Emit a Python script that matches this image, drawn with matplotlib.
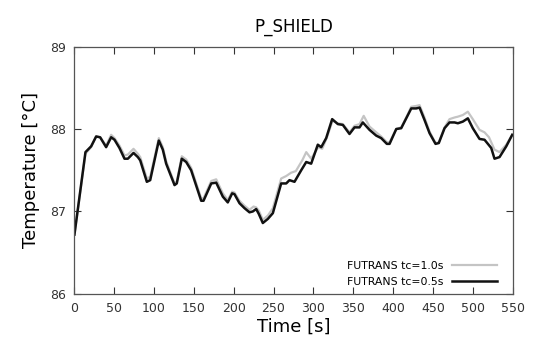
import numpy as np
import matplotlib
matplotlib.use("Agg")
import matplotlib.pyplot as plt

# black curve: FUTRANS tc=0.5s
t_05 = [0.6, 14.4, 21.5, 27.8, 32.8, 40.3, 46.6, 50.8, 57, 63.3, 67.5, 74.6, 80, 83,
        91.3, 95.5, 106.3, 111.3, 115.5, 126, 128.8, 135.1, 140.6, 146.8, 159.4, 162.3,
        172, 178.2, 186.5, 192.7, 198.2, 201.1, 207.4, 213.7, 219.9, 224, 228.3, 231.6,
        236.6, 242.9, 249.2, 259.6, 265.9, 270, 276.3, 284.7, 291, 297.2, 305.5, 309.8,
        316, 323.5, 330.6, 336.9, 345.2, 351.5, 357.8, 361.9, 370.3, 378.7, 384.9, 392,
        395.4, 403.8, 410, 416.3, 422.6, 428.8, 433, 439.2, 445.5, 453, 457.1, 464.3,
        470.5, 476.8, 481, 487.2, 493.5, 499.7, 508.1, 514.4, 522.8, 526.9, 533.2,
        541.6, 549.1]
temp_05 = [86.72, 87.72, 87.79, 87.91, 87.90, 87.78, 87.90, 87.87, 87.77, 87.64, 87.64,
           87.71, 87.66, 87.62, 87.36, 87.38, 87.86, 87.75, 87.58, 87.32, 87.34, 87.64,
           87.60, 87.50, 87.13, 87.13, 87.34, 87.35, 87.18, 87.11, 87.22, 87.21, 87.10,
           87.04, 86.99, 87.00, 87.03, 86.97, 86.86, 86.91, 86.98, 87.34, 87.34, 87.38,
           87.36, 87.50, 87.60, 87.58, 87.81, 87.78, 87.89, 88.12, 88.06, 88.05, 87.94,
           88.02, 88.02, 88.08, 87.99, 87.92, 87.89, 87.82, 87.82, 88.00, 88.01, 88.13,
           88.25, 88.25, 88.26, 88.11, 87.95, 87.82, 87.83, 88.01, 88.08, 88.08, 88.07,
           88.09, 88.13, 88.01, 87.88, 87.87, 87.77, 87.64, 87.66, 87.79, 87.93]

# grey curve: FUTRANS tc=1.0s
t_10 = [0.6, 14.4, 21.5, 27.8, 32.8, 40.3, 46.6, 50.8, 57, 63.3, 67.5, 74.6, 80, 83,
        91.3, 95.5, 106.3, 111.3, 115.5, 126, 128.8, 135.1, 140.6, 146.8, 159.4, 162.3,
        172, 178.2, 186.5, 192.7, 198.2, 201.1, 207.4, 213.7, 219.9, 225, 228.3, 231.6,
        236.6, 242.9, 249.2, 259.6, 265.9, 272, 278, 286, 291, 297.2, 306, 311,
        317, 324, 330.6, 336.9, 345.2, 351.5, 357.8, 363, 370.3, 378.7, 384.9, 392,
        395.4, 403.8, 410, 416.3, 422.6, 428.8, 433, 439.2, 445.5, 453, 457.1, 464.3,
        470.5, 476.8, 481, 487.2, 493.5, 499.7, 508.1, 514.4, 520, 526.9, 533.2,
        541.6, 549.1]
temp_10 = [86.72, 87.70, 87.78, 87.91, 87.90, 87.80, 87.93, 87.89, 87.80, 87.68, 87.69,
           87.76, 87.70, 87.66, 87.40, 87.42, 87.89, 87.78, 87.61, 87.34, 87.36, 87.67,
           87.63, 87.53, 87.16, 87.16, 87.37, 87.39, 87.22, 87.14, 87.24, 87.23, 87.13,
           87.07, 87.02, 87.06, 87.05, 87.01, 86.90, 86.95, 87.04, 87.40, 87.43, 87.47,
           87.49, 87.62, 87.72, 87.64, 87.78, 87.76, 87.90, 88.10, 88.07, 88.06, 87.96,
           88.04, 88.06, 88.16, 88.03, 87.96, 87.91, 87.84, 87.84, 88.00, 88.02, 88.14,
           88.27, 88.28, 88.29, 88.14, 87.97, 87.83, 87.84, 88.02, 88.12, 88.14, 88.15,
           88.17, 88.21, 88.12, 87.99, 87.96, 87.90, 87.75, 87.72, 87.81, 87.93]

legend_labels = ["FUTRANS tc=1.0s", "FUTRANS tc=0.5s"]
x_ticks = list(range(0, 551, 50))
y_ticks = [86, 87, 88, 89]

fig = plt.figure(figsize=(5.36, 3.45), dpi=100)
ax = fig.add_axes([0.138, 0.148, 0.819, 0.717])

ax.plot(t_10, temp_10, color="#c4c4c4", lw=1.6, solid_joinstyle="round",
        label=legend_labels[0])
ax.plot(t_05, temp_05, color="#111111", lw=1.8, solid_joinstyle="round",
        label=legend_labels[1])

ax.set_xlim(0, 550)
ax.set_ylim(86, 89)
ax.set_xticks(x_ticks)
ax.set_yticks(y_ticks)
ax.tick_params(direction="in", top=True, right=True, length=5, width=0.8,
               labelsize=9, labelcolor="#333333", color="#333333", pad=6)
for s in ax.spines.values():
    s.set_color("#555555")
    s.set_linewidth(0.9)

ax.set_title("P_SHIELD", fontsize=12, pad=11)
ax.set_xlabel("Time [s]", fontsize=13, labelpad=2)
ax.set_ylabel("Temperature [°C]", fontsize=13, labelpad=7)

ax.legend(loc="lower right", bbox_to_anchor=(0.979, 0.0), frameon=False,
          markerfirst=False, fontsize=7.8, handlelength=4.1, borderaxespad=0.25,
          labelspacing=0.55)

fig.savefig("out.png", dpi=100)
